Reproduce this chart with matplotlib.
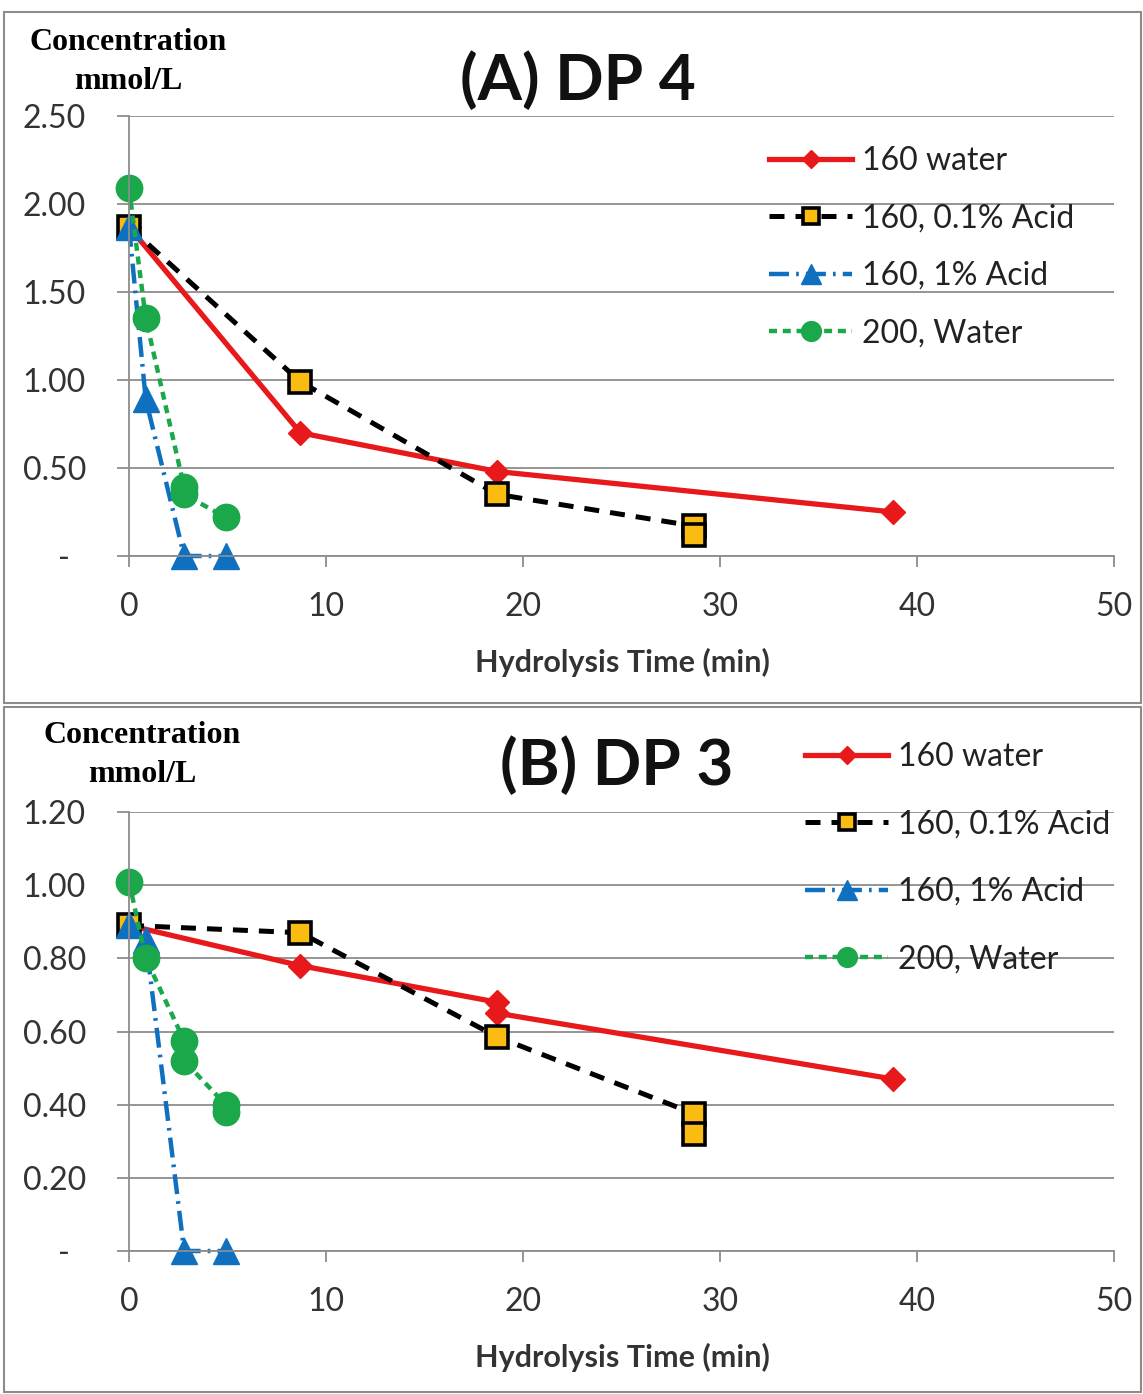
import matplotlib.pyplot as plt
from matplotlib.patches import Rectangle

W, H = 1143, 1394

# hydrolysis times (min) and concentrations (mmol/L)
# (A) DP 4
a_w160_t = [0, 8.7, 18.7, 38.8]
a_w160_c = [1.87, 0.70, 0.48, 0.25]
a_ac01_t = [0, 8.7, 18.7, 28.7, 28.7]
a_ac01_c = [1.87, 0.99, 0.35, 0.17, 0.12]
a_ac1_t = [0, 0.85, 2.8, 4.9]
a_ac1_c = [1.87, 0.89, 0.0, 0.0]
a_w200_t = [0, 0.85, 2.8, 2.8, 4.9]
a_w200_c = [2.09, 1.35, 0.39, 0.35, 0.22]

# (B) DP 3
b_w160_t = [0, 8.7, 18.7, 18.7, 38.8]
b_w160_c = [0.89, 0.78, 0.68, 0.65, 0.47]
b_ac01_t = [0, 8.7, 18.7, 28.7, 28.7]
b_ac01_c = [0.89, 0.87, 0.585, 0.375, 0.32]
b_ac1_t = [0, 0.85, 2.8, 4.9]
b_ac1_c = [0.89, 0.85, 0.0, 0.0]
b_w200_t = [0, 0.85, 2.8, 2.8, 4.9, 4.9]
b_w200_c = [1.01, 0.80, 0.575, 0.52, 0.40, 0.38]

labels = ["160 water", "160, 0.1% Acid", "160, 1% Acid", "200, Water"]
xticks = [0, 10, 20, 30, 40, 50]
a_yticks = [0, 0.5, 1.0, 1.5, 2.0, 2.5]
b_yticks = [0, 0.2, 0.4, 0.6, 0.8, 1.0, 1.2]

SANS = "Lato"
GRID = "#8c8c8c"


def fx(px):
    return px / W


def fy(py):
    return 1 - py / H


def draw_panel(ax, series, yticks, ymax):
    styles = [
        dict(color="#e8191b", lw=3.8, ls="-", marker="D", ms=12,
             mfc="#e8191b", mec="#e8191b"),
        dict(color="black", lw=3.6, ls=(0, (3, 2.2)), marker="s", ms=16,
             mfc="#fbbc12", mec="black", mew=2.6),
        dict(color="#1070c0", lw=3.2, ls=(0, (4.5, 1.6, 0.6, 1.6)), marker="^", ms=19,
             mfc="#1070c0", mec="#1070c0"),
        dict(color="#1aa84a", lw=3.2, ls=(0, (1.8, 1.3)), marker="o", ms=19,
             mfc="#1aa84a", mec="#1aa84a"),
    ]
    for (t, c), st, lab in zip(series, styles, labels):
        ax.plot(t, c, label=lab, clip_on=False, **st)

    ax.set_xlim(0, 50)
    ax.set_ylim(0, ymax)
    ax.set_xticks(xticks)
    ax.set_yticks(yticks)
    ax.set_yticklabels(["-  "] + [f"{v:.2f}" for v in yticks[1:]])
    ax.yaxis.grid(True, color=GRID, lw=1.3)
    ax.set_axisbelow(True)
    for s in ["top", "right"]:
        ax.spines[s].set_visible(False)
    for s in ["left", "bottom"]:
        ax.spines[s].set_color(GRID)
        ax.spines[s].set_linewidth(1.3)
    ax.tick_params(axis="y", length=9, width=1.3, color=GRID, pad=22,
                   labelsize=23, labelcolor="#333333")
    ax.tick_params(axis="x", length=8, width=1.3, color=GRID, pad=18,
                   labelsize=23, labelcolor="#333333")
    for lab in ax.get_xticklabels() + ax.get_yticklabels():
        lab.set_family(SANS)


fig = plt.figure(figsize=(W / 100, H / 100), dpi=100)

axA = fig.add_axes([fx(129), fy(556), fx(1114) - fx(129), fy(116) - fy(556)])
axB = fig.add_axes([fx(129), fy(1251), fx(1114) - fx(129), fy(812) - fy(1251)])

draw_panel(axA, [(a_w160_t, a_w160_c), (a_ac01_t, a_ac01_c),
                 (a_ac1_t, a_ac1_c), (a_w200_t, a_w200_c)], a_yticks, 2.5)
draw_panel(axB, [(b_w160_t, b_w160_c), (b_ac01_t, b_ac01_c),
                 (b_ac1_t, b_ac1_c), (b_w200_t, b_w200_c)], b_yticks, 1.2)

for ax, (lx, ly), sp in [(axA, (769, 146), 0.86), (axB, (805, 742), 1.17)]:
    leg = ax.legend(loc="upper left", bbox_to_anchor=(fx(lx), fy(ly)),
                    bbox_transform=fig.transFigure, frameon=False,
                    prop=dict(family=SANS, size=23), handlelength=2.6,
                    handletextpad=0.3, labelspacing=sp, borderaxespad=0,
                    borderpad=0, markerscale=0.75)
    for txt in leg.get_texts():
        txt.set_color("#222222")

# titles, axis captions
fig.text(fx(578), fy(80), "(A) DP 4", ha="center", va="center",
         family=SANS, weight="bold", size=46, color="#111111")
fig.text(fx(617), fy(765), "(B) DP 3", ha="center", va="center",
         family=SANS, weight="bold", size=46, color="#111111")
for cy in (662, 1357):
    fig.text(fx(622), fy(cy), "Hydrolysis Time (min)", ha="center", va="center",
             family=SANS, weight="bold", size=22, color="#333333")
for cx, cy in [(128, 62), (142, 755)]:
    fig.text(fx(cx), fy(cy), "Concentration\nmmol/L", ha="center", va="center",
             family="Liberation Serif", weight="bold", size=23,
             linespacing=1.45, color="black")

# chart-area borders
for top, bot in [(12, 703), (707, 1392)]:
    fig.add_artist(Rectangle((fx(4), fy(bot)), fx(1141) - fx(4), fy(top) - fy(bot),
                             transform=fig.transFigure, fill=False,
                             edgecolor="#8c8c8c", lw=1.5))

fig.savefig("out.png", dpi=100, facecolor="white")
